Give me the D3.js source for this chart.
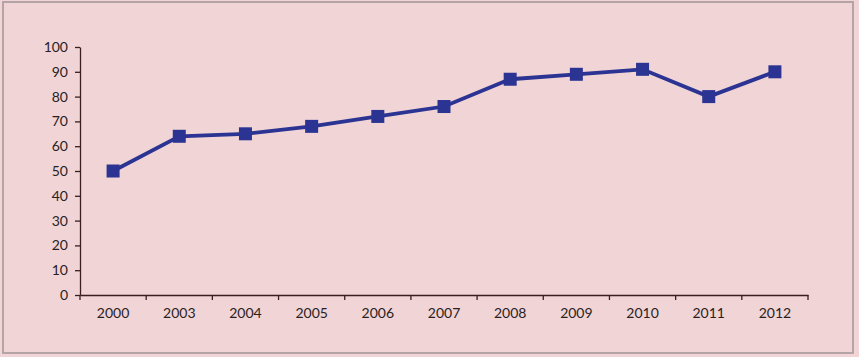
<!DOCTYPE html>
<html>
<head>
<meta charset="utf-8">
<script src="https://cdn.jsdelivr.net/npm/d3@7"></script>
<style>
  body { margin: 0; background: #f0d4d6; }
  svg { display: block; }
  .axis text { font-family: Lato, "Open Sans", sans-serif; font-size: 14px; fill: #2a1e1e; }
  .axis path, .axis line { stroke: #3a1f1f; stroke-width: 1.3; }
</style>
</head>
<body>
<div id="chart"></div>
<script>
// Data
var years   = ["2000", "2003", "2004", "2005", "2006", "2007", "2008", "2009", "2010", "2011", "2012"];
var values  = [50, 64, 65, 68, 72, 76, 87, 89, 91, 80, 90];
var yTicks  = [0, 10, 20, 30, 40, 50, 60, 70, 80, 90, 100];

var chart_width  = 859;
var chart_height = 357;
var margin = { left: 80, right: 51, top: 47, bottom: 62 };

var svg = d3.select("#chart")
    .append("svg")
    .attr("width", chart_width)
    .attr("height", chart_height);

// outer frame
svg.append("rect")
    .attr("x", 3).attr("y", 2)
    .attr("width", 850).attr("height", 351)
    .style("fill", "#f0d4d6")
    .style("stroke", "#b4a4a6")
    .style("stroke-width", 2);

var x = d3.scaleBand()
    .domain(years)
    .range([margin.left, chart_width - margin.right]);

var y = d3.scaleLinear()
    .domain([0, 100])
    .range([chart_height - margin.bottom, margin.top]);

// axes
var xAxis = svg.append("g")
    .attr("class", "axis")
    .attr("transform", "translate(0," + (chart_height - margin.bottom) + ")")
    .call(d3.axisBottom(x).tickSize(0).tickPadding(13));
xAxis.selectAll(".tick line").remove();

// category boundary ticks
var bounds = years.map(function(d) { return x(d); }).concat([x.range()[1]]);
xAxis.selectAll(".bound")
    .data(bounds)
    .enter()
    .append("line")
    .attr("x1", function(d) { return d; })
    .attr("x2", function(d) { return d; })
    .attr("y1", 0).attr("y2", 5)
    .style("stroke", "#3a1f1f")
    .style("stroke-width", 1.3);

svg.append("g")
    .attr("class", "axis")
    .attr("transform", "translate(" + margin.left + ",0)")
    .call(d3.axisLeft(y).tickValues(yTicks).tickSize(5).tickPadding(7).tickSizeOuter(0));

svg.selectAll(".domain").style("stroke", "#3a1f1f");

// line
var line = d3.line()
    .x(function(d, i) { return x(years[i]) + x.bandwidth() / 2; })
    .y(function(d) { return y(d); });

svg.append("path")
    .datum(values)
    .attr("d", line)
    .style("fill", "none")
    .style("stroke", "#2b3492")
    .style("stroke-width", 3.8);

// markers
svg.selectAll(".marker")
    .data(values)
    .enter()
    .append("rect")
    .attr("class", "marker")
    .attr("x", function(d, i) { return x(years[i]) + x.bandwidth() / 2 - 6.5; })
    .attr("y", function(d) { return y(d) - 6.5; })
    .attr("width", 13)
    .attr("height", 13)
    .style("fill", "#2b3492");
</script>
</body>
</html>
